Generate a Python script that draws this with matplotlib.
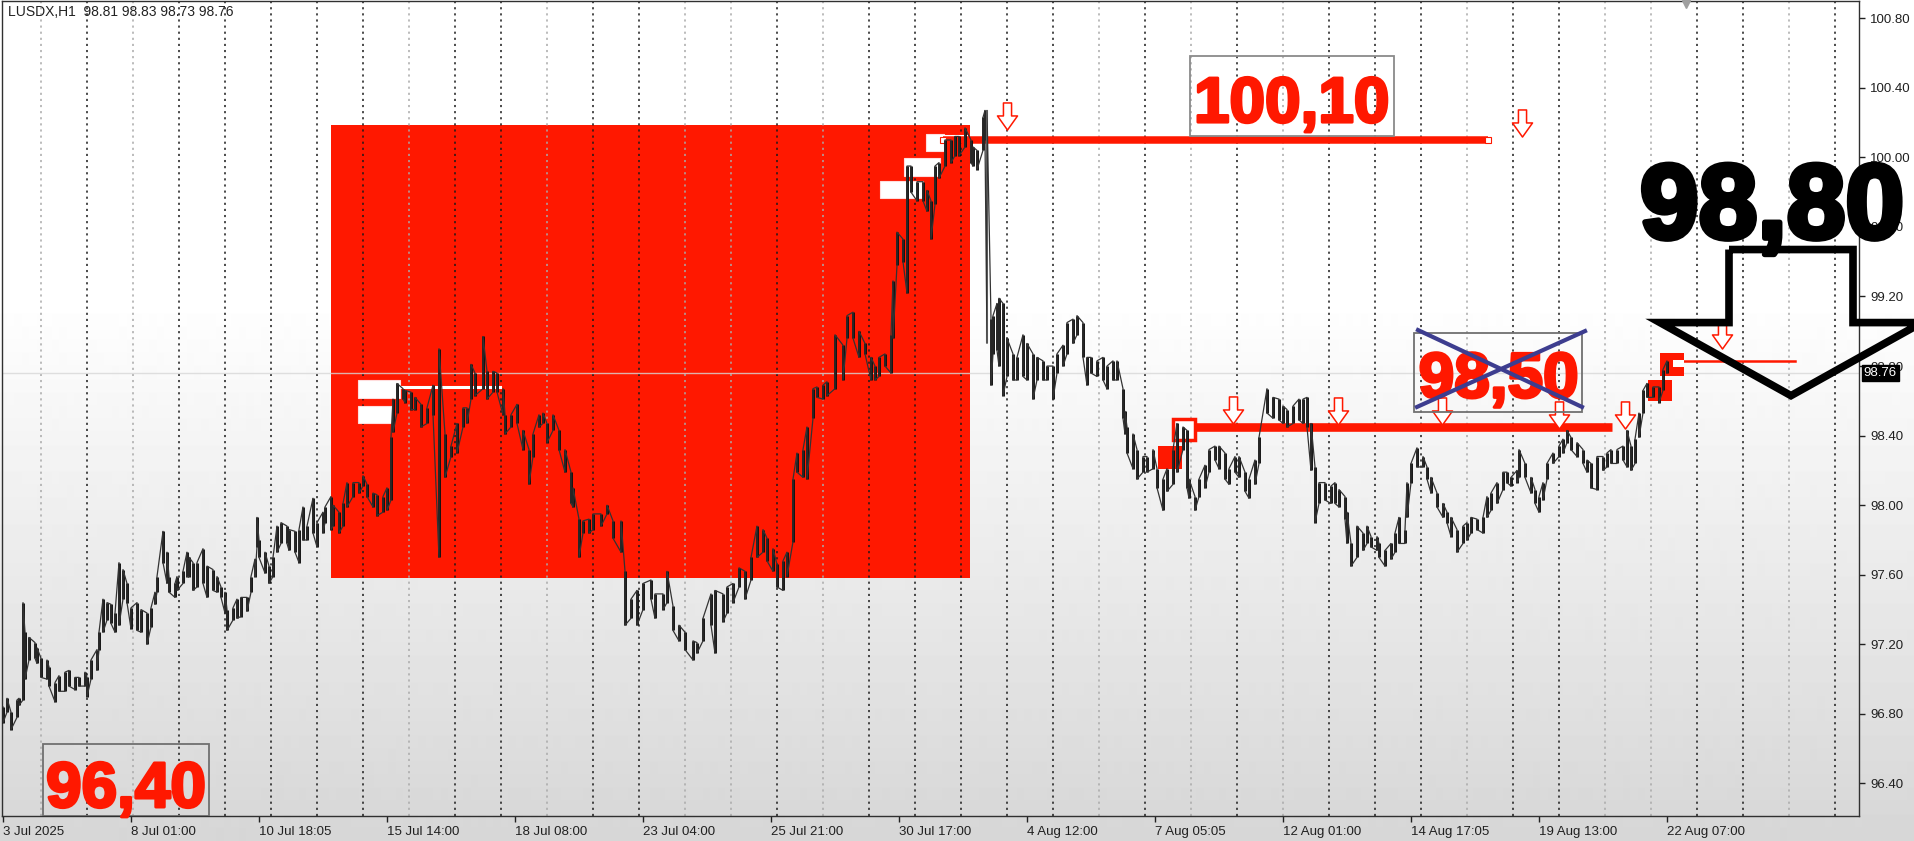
import numpy as np
import matplotlib
matplotlib.use("Agg")
import matplotlib.pyplot as plt
import matplotlib.transforms as mtransforms
import matplotlib.patheffects as pe
from matplotlib.patches import Rectangle, Polygon
from matplotlib.path import Path

# H1 bars, index counted from 3 Jul 2025; high / low
bars = [0, 2, 4, 7, 8, 10, 11, 13, 16, 17,
        19, 22, 23, 26, 28, 31, 33, 36, 38, 41,
        42, 44, 47, 48, 50, 52, 54, 56, 58, 60,
        62, 64, 67, 69, 72, 74, 76, 77, 80, 82,
        83, 86, 87, 90, 92, 93, 95, 97, 100, 102,
        105, 107, 109, 111, 112, 115, 117, 119, 122, 124,
        126, 127, 128, 131, 133, 135, 137, 139, 142, 143,
        146, 148, 150, 152, 155, 157, 160, 161, 164, 165,
        168, 170, 172, 175, 178, 180, 182, 185, 187, 190,
        192, 194, 195, 197, 200, 201, 204, 206, 209, 212,
        215, 218, 221, 224, 227, 230, 232, 234, 236, 240,
        242, 245, 247, 250, 251, 254, 257, 260, 263, 265,
        268, 270, 272, 275, 278, 281, 284, 285, 288, 290,
        293, 295, 299, 302, 305, 309, 311, 314, 317, 320,
        324, 326, 330, 332, 335, 338, 341, 345, 347, 350,
        354, 356, 360, 362, 365, 368, 371, 374, 377, 380,
        382, 385, 387, 390, 392, 395, 397, 400, 402, 405,
        407, 410, 412, 416, 420, 422, 425, 428, 431, 434,
        436, 438, 441, 444, 445, 447, 450, 452, 454, 457,
        460, 462, 464, 466, 468, 471, 474, 476, 478, 481,
        484, 485, 487, 490, 491, 492, 494, 495, 497, 498,
        500, 502, 505, 507, 510, 512, 515, 517, 520, 522,
        525, 527, 530, 532, 535, 537, 540, 542, 544, 547,
        550, 552, 555, 557, 560, 561, 562, 565, 567, 570,
        572, 575, 577, 580, 582, 585, 587, 590, 592, 593,
        596, 598, 601, 603, 606, 608, 611, 613, 616, 618,
        621, 623, 626, 628, 632, 635, 638, 640, 642, 645,
        648, 650, 652, 654, 656, 658, 661, 664, 666, 668,
        671, 672, 674, 677, 680, 682, 684, 687, 688, 691,
        694, 696, 698, 701, 702, 704, 707, 710, 712, 714,
        717, 720, 722, 724, 727, 730, 732, 734, 737, 740,
        742, 744, 747, 750, 752, 754, 757, 758, 761, 764,
        766, 768, 770, 772, 775, 778, 780, 782, 784, 787,
        790, 792, 794, 797, 800, 802, 804, 807, 810, 812,
        814, 816, 818, 820, 822, 825, 828, 830, 832]

highs = [96.84, 96.89, 96.81, 96.88, 96.89, 97.44, 97.27, 97.24, 97.21, 97.18,
         97.12, 97.11, 97.07, 96.98, 97.02, 97.04, 97.05, 97.01, 97.01, 97.04,
         97.01, 97.11, 97.17, 97.27, 97.46, 97.44, 97.43, 97.38, 97.67, 97.63,
         97.55, 97.41, 97.44, 97.40, 97.38, 97.41, 97.50, 97.59, 97.85, 97.73,
         97.59, 97.55, 97.59, 97.62, 97.73, 97.70, 97.67, 97.67, 97.75, 97.65,
         97.63, 97.59, 97.53, 97.50, 97.40, 97.41, 97.46, 97.47, 97.47, 97.59,
         97.69, 97.93, 97.80, 97.73, 97.65, 97.70, 97.88, 97.90, 97.88, 97.86,
         97.85, 97.86, 97.99, 97.88, 98.04, 97.90, 97.96, 97.99, 98.05, 98.00,
         97.96, 98.01, 98.13, 98.13, 98.13, 98.17, 98.12, 98.07, 98.06, 98.05,
         98.10, 98.39, 98.61, 98.70, 98.67, 98.66, 98.65, 98.62, 98.58, 98.56,
         98.69, 98.90, 98.41, 98.34, 98.47, 98.56, 98.56, 98.81, 98.76, 98.97,
         98.77, 98.77, 98.76, 98.67, 98.52, 98.52, 98.58, 98.43, 98.32, 98.41,
         98.52, 98.53, 98.47, 98.52, 98.43, 98.32, 98.19, 98.10, 97.92, 97.91,
         97.92, 97.95, 97.95, 98.00, 97.91, 97.91, 97.62, 97.46, 97.51, 97.55,
         97.57, 97.49, 97.49, 97.62, 97.42, 97.31, 97.27, 97.22, 97.21, 97.35,
         97.49, 97.51, 97.49, 97.53, 97.55, 97.64, 97.62, 97.70, 97.88, 97.86,
         97.81, 97.75, 97.66, 97.68, 97.73, 98.15, 98.30, 98.32, 98.45, 98.67,
         98.68, 98.69, 98.71, 98.98, 98.92, 99.09, 99.11, 99.00, 98.93, 98.85,
         98.80, 98.85, 98.87, 98.98, 99.29, 99.57, 99.53, 99.95, 99.95, 99.86,
         99.86, 99.81, 99.75, 99.95, 99.97, 100.10, 100.10, 100.12, 100.12, 100.17,
         100.10, 100.06, 100.04, 100.23, 100.27, 100.27, 99.07, 99.09, 99.16, 99.19,
         99.16, 98.96, 98.87, 98.85, 98.98, 98.93, 98.87, 98.85, 98.83, 98.80,
         98.80, 98.87, 98.92, 99.05, 99.07, 99.09, 99.05, 98.85, 98.85, 98.83,
         98.85, 98.80, 98.83, 98.83, 98.67, 98.54, 98.45, 98.41, 98.32, 98.28,
         98.28, 98.32, 98.21, 98.15, 98.21, 98.32, 98.47, 98.45, 98.43, 98.15,
         98.05, 98.15, 98.23, 98.32, 98.34, 98.34, 98.30, 98.21, 98.28, 98.28,
         98.19, 98.15, 98.26, 98.39, 98.67, 98.62, 98.61, 98.57, 98.55, 98.57,
         98.61, 98.61, 98.62, 98.47, 98.22, 98.13, 98.13, 98.11, 98.13, 98.09,
         98.05, 97.96, 97.78, 97.88, 97.84, 97.88, 97.82, 97.82, 97.78, 97.74,
         97.78, 97.84, 97.93, 97.86, 98.13, 98.24, 98.33, 98.28, 98.22, 98.16,
         98.07, 98.01, 97.96, 97.93, 97.86, 97.88, 97.90, 97.93, 97.92, 97.93,
         98.05, 98.07, 98.13, 98.19, 98.19, 98.16, 98.20, 98.32, 98.24, 98.16,
         98.09, 98.05, 98.13, 98.24, 98.30, 98.34, 98.38, 98.43, 98.39, 98.36,
         98.32, 98.26, 98.24, 98.28, 98.28, 98.30, 98.32, 98.32, 98.34, 98.43,
         98.34, 98.38, 98.53, 98.66, 98.70, 98.68, 98.68, 98.78, 98.83]

lows = [96.75, 96.81, 96.71, 96.78, 96.85, 96.88, 97.00, 97.11, 97.12, 97.09,
        97.01, 97.00, 96.96, 96.87, 96.93, 96.93, 96.96, 96.94, 96.96, 96.96,
        96.90, 97.00, 97.05, 97.17, 97.27, 97.34, 97.32, 97.27, 97.31, 97.46,
        97.44, 97.29, 97.28, 97.27, 97.20, 97.30, 97.43, 97.50, 97.67, 97.55,
        97.50, 97.47, 97.51, 97.55, 97.59, 97.59, 97.51, 97.53, 97.55, 97.47,
        97.51, 97.50, 97.47, 97.38, 97.28, 97.34, 97.35, 97.36, 97.39, 97.50,
        97.59, 97.76, 97.70, 97.61, 97.55, 97.59, 97.73, 97.78, 97.78, 97.74,
        97.73, 97.67, 97.80, 97.80, 97.84, 97.76, 97.84, 97.90, 97.86, 97.88,
        97.84, 97.88, 97.99, 98.05, 98.07, 98.11, 98.05, 97.99, 97.94, 97.96,
        97.97, 98.03, 98.42, 98.53, 98.61, 98.59, 98.55, 98.55, 98.45, 98.47,
        98.52, 97.70, 98.16, 98.28, 98.30, 98.45, 98.47, 98.61, 98.63, 98.67,
        98.61, 98.65, 98.65, 98.52, 98.41, 98.45, 98.47, 98.32, 98.12, 98.28,
        98.45, 98.47, 98.36, 98.43, 98.32, 98.19, 98.01, 97.99, 97.70, 97.84,
        97.84, 97.86, 97.88, 97.95, 97.81, 97.73, 97.31, 97.35, 97.31, 97.40,
        97.46, 97.35, 97.40, 97.44, 97.28, 97.22, 97.17, 97.11, 97.15, 97.22,
        97.31, 97.15, 97.33, 97.38, 97.44, 97.53, 97.46, 97.57, 97.70, 97.73,
        97.68, 97.62, 97.53, 97.51, 97.59, 97.79, 98.19, 98.16, 98.15, 98.50,
        98.62, 98.61, 98.63, 98.67, 98.72, 98.96, 98.96, 98.85, 98.87, 98.72,
        98.72, 98.74, 98.80, 98.76, 98.96, 99.38, 99.40, 99.22, 99.80, 99.75,
        99.75, 99.69, 99.53, 99.73, 99.88, 99.95, 99.97, 100.01, 100.01, 100.06,
        99.97, 99.95, 99.93, 100.04, 100.10, 98.93, 98.69, 98.87, 98.89, 98.80,
        98.63, 98.74, 98.72, 98.72, 98.74, 98.72, 98.61, 98.72, 98.72, 98.72,
        98.61, 98.76, 98.80, 98.87, 98.93, 98.98, 98.85, 98.69, 98.76, 98.74,
        98.72, 98.67, 98.72, 98.72, 98.50, 98.41, 98.30, 98.21, 98.15, 98.19,
        98.19, 98.21, 98.10, 97.97, 98.08, 98.12, 98.19, 98.32, 98.10, 98.04,
        97.97, 98.05, 98.10, 98.19, 98.26, 98.21, 98.15, 98.12, 98.19, 98.16,
        98.08, 98.04, 98.12, 98.24, 98.53, 98.50, 98.49, 98.47, 98.45, 98.47,
        98.49, 98.47, 98.45, 98.20, 97.90, 98.01, 98.03, 98.01, 98.01, 97.99,
        97.92, 97.78, 97.65, 97.70, 97.74, 97.78, 97.76, 97.74, 97.70, 97.65,
        97.69, 97.73, 97.78, 97.78, 97.93, 98.13, 98.22, 98.22, 98.15, 98.07,
        97.99, 97.93, 97.90, 97.82, 97.73, 97.78, 97.80, 97.84, 97.86, 97.84,
        97.93, 97.97, 98.01, 98.09, 98.13, 98.11, 98.13, 98.16, 98.16, 98.07,
        98.01, 97.96, 98.03, 98.15, 98.24, 98.28, 98.30, 98.36, 98.32, 98.28,
        98.24, 98.19, 98.10, 98.09, 98.20, 98.22, 98.24, 98.24, 98.26, 98.22,
        98.20, 98.24, 98.39, 98.53, 98.62, 98.62, 98.59, 98.66, 98.76]

gray_bars = [492]

date_ticks = [0, 64, 128, 192, 256, 320, 384, 448, 512, 576, 640, 704, 768, 832]
date_labels = ["3 Jul 2025", "8 Jul 01:00", "10 Jul 18:05", "15 Jul 14:00",
               "18 Jul 08:00", "23 Jul 04:00", "25 Jul 21:00", "30 Jul 17:00",
               "4 Aug 12:00", "7 Aug 05:05", "12 Aug 01:00", "14 Aug 17:05",
               "19 Aug 13:00", "22 Aug 07:00"]
price_ticks = [96.40, 96.80, 97.20, 97.60, 98.00, 98.40,
               98.80, 99.20, 99.60, 100.00, 100.40, 100.80]

# day separators every 23 bars, "b" = dark, "g" = light
sep_first, sep_step = 19, 23
sep_shade = "gbgbbbbbgb" "bgbbggbgbb" "bbbgbgbgbb" "bgbbggbbgb"

header = "LUSDX,H1  98.81 98.83 98.73 98.76"
last_price = 98.76

# drawn objects
zone_bars = (164, 483.5)
zone_prices = (97.58, 100.185)
top_level, top_level_bars = 100.10, (470, 742.5)
mid_level, mid_level_bars = 98.45, (586, 804.5)
end_level, end_level_bars = 98.83, (840.5, 896)
sell_bars = [502, 759.5, 615, 667.5, 719.5, 778, 811, 859.5]
sell_prices = [100.24, 100.20, 98.55, 98.54, 98.54, 98.52, 98.52, 98.98]

RED = "#ff1800"
FONT = ["Liberation Sans", "DejaVu Sans"]

fig = plt.figure(figsize=(19.15, 8.41), dpi=100)

# light vertical shading of the screenshot background
bg = fig.add_axes([0, 0, 1, 1])
bg.set_zorder(0)
shade = np.concatenate([np.ones(300), np.linspace(1.0, 0.84, 541)])[:, None]
bg.imshow(shade, cmap="gray", vmin=0, vmax=1, aspect="auto", extent=[0, 1, 0, 1])
bg.axis("off")

ax = fig.add_axes([2 / 1915, 25 / 841, 1857 / 1915, 815 / 841])
ax.set_zorder(1)
ax.set_facecolor("none")
ax.set_xlim(-0.5, 928)
ax.set_ylim(96.213, 100.899)

# red zone
ax.add_patch(Rectangle((zone_bars[0], zone_prices[0]), zone_bars[1] - zone_bars[0],
                       zone_prices[1] - zone_prices[0], facecolor=RED, edgecolor="none", zorder=1))

# day separators
for k, s in enumerate(sep_shade):
    xb = sep_first + sep_step * k
    ax.axvline(xb, color="#1a1a1a" if s == "b" else "#a9a9a9", lw=1.1,
               linestyle=(0, (1.4, 2.6)), zorder=1.5)

# bid line
ax.axhline(last_price, color="#d8d8d8", lw=1.0, alpha=0.8, zorder=2)

# white trade labels inside the zone
for b0, b1, p0, p1 in [(461.5, 470.5, 100.037, 100.135), (450.5, 468.5, 99.893, 99.997),
                       (438.5, 460, 99.767, 99.864), (177.5, 198.5, 98.616, 98.72),
                       (177.5, 194.5, 98.473, 98.57)]:
    ax.add_patch(Rectangle((b0, p0), b1 - b0, p1 - p0, facecolor="white",
                           edgecolor="#ffdddd", lw=0.8, zorder=2.2))
ax.plot([189.5, 248.5], [98.68, 98.68], color="white", lw=2.2, zorder=2.2)
ax.plot([470, 482], [100.12, 100.12], color="white", lw=1.5, zorder=2.2)

# levels
ax.plot(top_level_bars, [top_level, top_level], color=RED, lw=5.4,
        solid_capstyle="butt", zorder=2.5)
ax.plot(top_level_bars, [top_level, top_level], "s", ms=4, mfc="white", mec=RED,
        mew=0.8, zorder=2.6)
ax.plot(mid_level_bars, [mid_level, mid_level], color=RED, lw=6.2,
        solid_capstyle="butt", zorder=2.5)
ax.plot(end_level_bars, [end_level, end_level], color=RED, lw=1.8, zorder=2.5)

# squares marking entries
ax.add_patch(Rectangle((577.5, 98.208), 12, 0.132, facecolor=RED, edgecolor="none", zorder=2.6))
ax.add_patch(Rectangle((585, 98.375), 11, 0.121, facecolor="white", edgecolor=RED,
                       lw=2.5, zorder=2.7))
ax.add_patch(Rectangle((822.5, 98.60), 12, 0.12, facecolor=RED, edgecolor="none", zorder=2.6))
ax.add_patch(Rectangle((828.5, 98.74), 12, 0.135, facecolor=RED, edgecolor="none", zorder=2.6))
ax.add_patch(Rectangle((835, 98.795), 5.5, 0.04, facecolor="white", edgecolor="none", zorder=2.7))

# candles: high-low strokes joined in a zigzag
hi = np.array(highs)
lo = np.array(lows)
bx = np.array(bars)
dark = ~np.isin(bx, gray_bars)
ax.vlines(bx[dark], lo[dark], hi[dark], color="#111111", lw=2.1, zorder=3)
ax.vlines(bx[~dark], lo[~dark], hi[~dark], color="#9a9a9a", lw=1.5, zorder=3)
zx, zy = [], []
for i, (b, h, l) in enumerate(zip(bars, highs, lows)):
    pair = (h, l) if i % 2 == 0 else (l, h)
    zx += [b, b]
    zy += list(pair)
ax.plot(zx, zy, color="#333333", lw=0.9, zorder=3)

# hollow sell arrows
arrow = Path([(-0.15, 0.5), (0.15, 0.5), (0.15, 0.02), (0.37, 0.02), (0, -0.5),
              (-0.37, 0.02), (-0.15, 0.02), (-0.15, 0.5)],
             [Path.MOVETO] + [Path.LINETO] * 6 + [Path.CLOSEPOLY])
ax.plot(sell_bars, sell_prices, linestyle="none", marker=arrow, ms=19.5,
        mfc="white", mec=RED, mew=1.1, zorder=4)

# price boxes
thick_red = [pe.withStroke(linewidth=2.2, foreground=RED)]
big = dict(family=FONT, weight="bold", fontsize=46, path_effects=thick_red)
ax.add_patch(Rectangle((593.5, 100.123), 102, 0.46, facecolor="none",
                       edgecolor="#8a8a8a", lw=1.3, zorder=4.5))
ax.text(644.3, 100.203, "100,10", color=RED, ha="center", va="baseline", zorder=5, **big)

ax.add_patch(Rectangle((705.5, 98.536), 84, 0.454, facecolor="none",
                       edgecolor="#707070", lw=1.3, zorder=4.5))
ax.text(747.8, 98.62, "98,50", color=RED, ha="center", va="baseline", zorder=5, **big)
ax.plot([707.5, 789.5], [99.007, 98.565], color="#3d3d8f", lw=3.0, zorder=5.5)
ax.plot([707.0, 791.0], [98.565, 99.001], color="#3d3d8f", lw=3.0, zorder=5.5)

ax.add_patch(Rectangle((20, 96.213), 83, 0.414, facecolor="none",
                       edgecolor="#707070", lw=1.3, zorder=4.5))
ax.text(61.5, 96.265, "96,40", color=RED, ha="center", va="baseline", zorder=5, **big)

# big target arrow and label
tip_bar, tip_price = 894, 98.63
head_price, shaft_top = 99.05, 99.47
shaft_half, head_half = 31, 65.5
ax.add_patch(Polygon([(tip_bar - shaft_half, shaft_top), (tip_bar + shaft_half, shaft_top),
                      (tip_bar + shaft_half, head_price), (tip_bar + head_half, head_price),
                      (tip_bar, tip_price), (tip_bar - head_half, head_price),
                      (tip_bar - shaft_half, head_price)],
                     closed=True, facecolor="none", edgecolor="black", lw=5.5,
                     joinstyle="miter", clip_on=False, zorder=6))
ax.text(884.5, 99.536, "98,80", color="black", ha="center", va="baseline",
        family=FONT, weight="bold", fontsize=76, clip_on=False, zorder=7,
        path_effects=[pe.withStroke(linewidth=4, foreground="black")])

# chart shift marker
ax.plot(841.5, 100.88, marker="v", color="#a0a0a0", ms=6, clip_on=False, zorder=4)

# axes styling like the terminal
for sp in ax.spines.values():
    sp.set_color("#303030")
    sp.set_linewidth(1.0)
ax.set_xticks(date_ticks)
ax.set_xticklabels(date_labels)
for lbl in ax.get_xticklabels():
    lbl.set_ha("left")
ax.tick_params(axis="x", direction="out", length=4, width=1, pad=3, labelsize=9.5,
               colors="#202020")
ax.yaxis.tick_right()
ax.set_yticks(price_ticks)
ax.set_yticklabels([f"{p:.2f}" for p in price_ticks])
ax.tick_params(axis="y", direction="out", length=4, width=1, pad=4, labelsize=9.5,
               colors="#202020")
for lbl in ax.get_xticklabels() + ax.get_yticklabels():
    lbl.set_family(FONT)

trans = mtransforms.blended_transform_factory(ax.transAxes, ax.transData)
ax.text(1.0025, last_price, "98.76", transform=trans, ha="left", va="center",
        color="white", fontsize=9.5, family=FONT,
        bbox=dict(boxstyle="square,pad=0.15", facecolor="black", edgecolor="black"),
        zorder=8, clip_on=False)

ax.text(0.003, 0.986, header, transform=ax.transAxes, ha="left", va="center",
        fontsize=10, color="#222222", family=FONT, zorder=8)

fig.savefig("out.png", dpi=100)
